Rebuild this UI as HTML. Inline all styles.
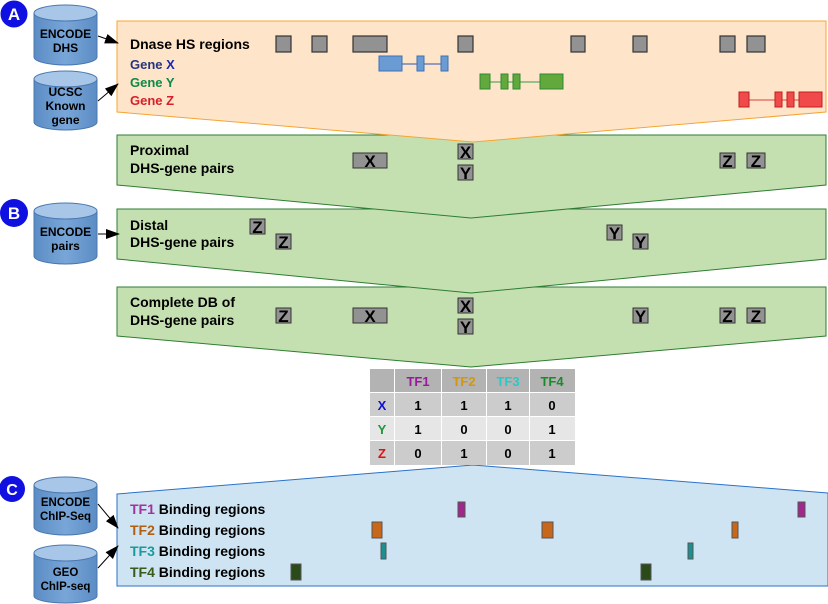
<!DOCTYPE html>
<html><head><meta charset="utf-8"><style>
html,body{margin:0;padding:0;background:#fff}
svg{display:block}
text{font-family:"Liberation Sans",sans-serif;font-weight:bold}
</style></head><body>
<svg width="828" height="604" viewBox="0 0 828 604" xmlns="http://www.w3.org/2000/svg">
<defs>
<marker id="ah" markerWidth="14" markerHeight="10" refX="13" refY="5" orient="auto" markerUnits="userSpaceOnUse"><path d="M0,0 L14,5 L0,10 z" fill="#000"/></marker>
<linearGradient id="cyl" x1="0" x2="1"><stop offset="0" stop-color="#5b8cc4"/><stop offset="0.5" stop-color="#79a6d8"/><stop offset="1" stop-color="#5b8cc4"/></linearGradient>
</defs>

<!-- panels (lower first, upper overlays) -->
<polygon points="117,494 473,465 828,493 828,586 117,586" fill="#cfe4f3" stroke="#2a72c8" stroke-width="1"/>
<polygon points="117,287 826,287 826,336 471,367 117,336" fill="#c4e0b0" stroke="#2e7d32" stroke-width="1"/>
<polygon points="117,209 826,209 826,259 471,293 117,259" fill="#c4e0b0" stroke="#2e7d32" stroke-width="1"/>
<polygon points="117,135 826,135 826,185 471,218 117,185" fill="#c4e0b0" stroke="#2e7d32" stroke-width="1"/>
<polygon points="117,21 826,21 826,112 473,142 117,112" fill="#fee5ca" stroke="#f4a534" stroke-width="1"/>

<!-- circles -->
<g><circle cx="14" cy="14" r="14" fill="#1010e0" stroke="#fff" stroke-width="1"/><text x="14" y="20" font-size="17" fill="#fff" text-anchor="middle">A</text></g>
<g><circle cx="14" cy="213" r="14" fill="#1010e0"/><text x="14" y="219" font-size="17" fill="#fff" text-anchor="middle">B</text></g>
<g><circle cx="12" cy="489" r="13" fill="#1010e0"/><text x="12" y="495" font-size="16" fill="#fff" text-anchor="middle">C</text></g>

<!-- cylinders -->
<g>
<path d="M34,13 L34,57 A31.5,8 0 0 0 97,57 L97,13" fill="url(#cyl)" stroke="#4a78b0"/>
<ellipse cx="65.5" cy="13" rx="31.5" ry="8" fill="#a8c6e8" stroke="#4a78b0"/>
<text x="65.5" y="38" font-size="12" text-anchor="middle">ENCODE</text><text x="65.5" y="52" font-size="12" text-anchor="middle">DHS</text></g>
<g>
<path d="M34,79 L34,122 A31.5,8 0 0 0 97,122 L97,79" fill="url(#cyl)" stroke="#4a78b0"/>
<ellipse cx="65.5" cy="79" rx="31.5" ry="8" fill="#a8c6e8" stroke="#4a78b0"/>
<text x="65.5" y="96" font-size="12" text-anchor="middle">UCSC</text><text x="65.5" y="110" font-size="12" text-anchor="middle">Known</text><text x="65.5" y="124" font-size="12" text-anchor="middle">gene</text></g>
<g>
<path d="M34,211 L34,256 A31.5,8 0 0 0 97,256 L97,211" fill="url(#cyl)" stroke="#4a78b0"/>
<ellipse cx="65.5" cy="211" rx="31.5" ry="8" fill="#a8c6e8" stroke="#4a78b0"/>
<text x="65.5" y="236" font-size="12" text-anchor="middle">ENCODE</text><text x="65.5" y="250" font-size="12" text-anchor="middle">pairs</text></g>
<g>
<path d="M34,485 L34,527 A31.5,8 0 0 0 97,527 L97,485" fill="url(#cyl)" stroke="#4a78b0"/>
<ellipse cx="65.5" cy="485" rx="31.5" ry="8" fill="#a8c6e8" stroke="#4a78b0"/>
<text x="65.5" y="506" font-size="11.5" text-anchor="middle">ENCODE</text><text x="65.5" y="520" font-size="11.5" text-anchor="middle">ChIP-Seq</text></g>
<g>
<path d="M34,553 L34,596 A31.5,7 0 0 0 97,596 L97,553" fill="url(#cyl)" stroke="#4a78b0"/>
<ellipse cx="65.5" cy="553" rx="31.5" ry="8" fill="#a8c6e8" stroke="#4a78b0"/>
<text x="65.5" y="576" font-size="11.5" text-anchor="middle">GEO</text><text x="65.5" y="590" font-size="11.5" text-anchor="middle">ChIP-seq</text></g>

<!-- arrows -->
<line x1="98" y1="36" x2="118" y2="43" stroke="#000" marker-end="url(#ah)"/>
<line x1="98" y1="101" x2="118" y2="84" stroke="#000" marker-end="url(#ah)"/>
<line x1="98" y1="234" x2="119" y2="234" stroke="#000" marker-end="url(#ah)"/>
<line x1="98" y1="504" x2="118" y2="528" stroke="#000" marker-end="url(#ah)"/>
<line x1="98" y1="568" x2="118" y2="546" stroke="#000" marker-end="url(#ah)"/>

<!-- panel A text -->
<text x="130" y="49" font-size="14">Dnase HS regions</text>
<text x="130" y="69" font-size="13" fill="#27357e">Gene <tspan fill="#1a2ab0">X</tspan></text>
<text x="130" y="87" font-size="13" fill="#0b8a4a">Gene Y</text>
<text x="130" y="105" font-size="13" fill="#d81e2a">Gene Z</text>

<g fill="#929292" stroke="#333" stroke-width="1.2">
<rect x="276" y="36" width="15" height="16"/><rect x="312" y="36" width="15" height="16"/><rect x="353" y="36" width="34" height="16"/><rect x="458" y="36" width="15" height="16"/><rect x="571" y="36" width="14" height="16"/><rect x="633" y="36" width="14" height="16"/><rect x="720" y="36" width="15" height="16"/><rect x="747" y="36" width="18" height="16"/></g>

<g><line x1="402" y1="64" x2="448" y2="64" stroke="#3050a8"/>
<g fill="#6a9bd2" stroke="#3d6fb5"><rect x="379" y="56" width="23" height="15"/><rect x="417" y="56" width="7" height="15"/><rect x="441" y="56" width="7" height="15"/></g></g>
<g><line x1="490" y1="82" x2="540" y2="82" stroke="#2e9a40"/>
<g fill="#62a83c" stroke="#2e8a30"><rect x="480" y="74" width="10" height="15"/><rect x="501" y="74" width="7" height="15"/><rect x="513" y="74" width="7" height="15"/><rect x="540" y="74" width="23" height="15"/></g></g>
<g><line x1="749" y1="100" x2="799" y2="100" stroke="#d84040"/>
<g fill="#f04a4a" stroke="#c02020"><rect x="739" y="92" width="10" height="15"/><rect x="775" y="92" width="7" height="15"/><rect x="787" y="92" width="7" height="15"/><rect x="799" y="92" width="23" height="15"/></g></g>

<!-- proximal -->
<text x="130" y="155" font-size="14">Proximal</text>
<text x="130" y="173" font-size="14">DHS-gene pairs</text>
<g font-size="17" text-anchor="middle">
<rect x="353" y="153" width="34" height="15" fill="#929292" stroke="#333"/><text x="370" y="167">X</text>
<rect x="458" y="144" width="15" height="15" fill="#929292" stroke="#333"/><text x="465.5" y="158">X</text>
<rect x="458" y="165" width="15" height="15" fill="#929292" stroke="#333"/><text x="465.5" y="179">Y</text>
<rect x="720" y="153" width="15" height="15" fill="#929292" stroke="#333"/><text x="727.5" y="167">Z</text>
<rect x="747" y="153" width="18" height="15" fill="#929292" stroke="#333"/><text x="756" y="167">Z</text></g>

<!-- distal -->
<text x="130" y="230" font-size="14">Distal</text>
<text x="130" y="247" font-size="14">DHS-gene pairs</text>
<g font-size="17" text-anchor="middle">
<rect x="250" y="219" width="15" height="15" fill="#929292" stroke="#333"/><text x="257.5" y="233">Z</text>
<rect x="276" y="234" width="15" height="15" fill="#929292" stroke="#333"/><text x="283.5" y="248">Z</text>
<rect x="607" y="225" width="15" height="15" fill="#929292" stroke="#333"/><text x="614.5" y="239">Y</text>
<rect x="633" y="234" width="15" height="15" fill="#929292" stroke="#333"/><text x="640.5" y="248">Y</text></g>

<!-- complete -->
<text x="130" y="307" font-size="14">Complete DB of</text>
<text x="130" y="325" font-size="14">DHS-gene pairs</text>
<g font-size="17" text-anchor="middle">
<rect x="276" y="308" width="15" height="15" fill="#929292" stroke="#333"/><text x="283.5" y="322">Z</text>
<rect x="353" y="308" width="34" height="15" fill="#929292" stroke="#333"/><text x="370" y="322">X</text>
<rect x="458" y="298" width="15" height="15" fill="#929292" stroke="#333"/><text x="465.5" y="312">X</text>
<rect x="458" y="319" width="15" height="15" fill="#929292" stroke="#333"/><text x="465.5" y="333">Y</text>
<rect x="633" y="308" width="15" height="15" fill="#929292" stroke="#333"/><text x="640.5" y="322">Y</text>
<rect x="720" y="308" width="15" height="15" fill="#929292" stroke="#333"/><text x="727.5" y="322">Z</text>
<rect x="747" y="308" width="18" height="15" fill="#929292" stroke="#333"/><text x="756" y="322">Z</text></g>

<!-- table -->
<g font-size="13" text-anchor="middle" stroke="none">
<rect x="370" y="369" width="205" height="96" fill="#fff"/>
<rect x="370" y="369" width="24" height="23" fill="#b3b3b3"/>
<rect x="395" y="369" width="46" height="23" fill="#b3b3b3"/><rect x="442" y="369" width="44" height="23" fill="#b3b3b3"/><rect x="487" y="369" width="42" height="23" fill="#b3b3b3"/><rect x="530" y="369" width="45" height="23" fill="#b3b3b3"/>
<rect x="370" y="393" width="24" height="23" fill="#cccccc"/><rect x="395" y="393" width="180" height="23" fill="#cccccc"/>
<rect x="370" y="417" width="24" height="23" fill="#e6e6e6"/><rect x="395" y="417" width="180" height="23" fill="#e6e6e6"/>
<rect x="370" y="441" width="24" height="24" fill="#cccccc"/><rect x="395" y="441" width="180" height="24" fill="#cccccc"/>
<g stroke="#fff" stroke-width="1"><line x1="441.5" y1="393" x2="441.5" y2="465"/><line x1="486.5" y1="393" x2="486.5" y2="465"/><line x1="529.5" y1="393" x2="529.5" y2="465"/></g>
<text x="418" y="386" fill="#9a1a9a">TF1</text><text x="464" y="386" fill="#d4960a">TF2</text><text x="508" y="386" fill="#2ac8c8">TF3</text><text x="552" y="386" fill="#1a8a2a">TF4</text>
<text x="382" y="410" fill="#1010d0">X</text><text x="382" y="434" fill="#1a9a3a">Y</text><text x="382" y="458" fill="#e01010">Z</text>
<text x="418" y="410">1</text><text x="464" y="410">1</text><text x="508" y="410">1</text><text x="552" y="410">0</text>
<text x="418" y="434">1</text><text x="464" y="434">0</text><text x="508" y="434">0</text><text x="552" y="434">1</text>
<text x="418" y="458">0</text><text x="464" y="458">1</text><text x="508" y="458">0</text><text x="552" y="458">1</text>
</g>

<!-- binding -->
<g font-size="14">
<text x="130" y="514"><tspan fill="#a3329a">TF1</tspan> Binding regions</text>
<text x="130" y="535"><tspan fill="#b06010">TF2</tspan> Binding regions</text>
<text x="130" y="556"><tspan fill="#1a9a9a">TF3</tspan> Binding regions</text>
<text x="130" y="577"><tspan fill="#3a5a1a">TF4</tspan> Binding regions</text></g>
<g fill="#a0288c" stroke="#555"><rect x="458" y="502" width="7" height="15"/><rect x="798" y="502" width="7" height="15"/></g>
<g fill="#c8661a" stroke="#555"><rect x="372" y="522" width="10" height="16"/><rect x="542" y="522" width="11" height="16"/><rect x="732" y="522" width="6" height="16"/></g>
<g fill="#1a9090" stroke="#555"><rect x="381" y="543" width="5" height="16"/><rect x="688" y="543" width="5" height="16"/></g>
<g fill="#2a4a1a" stroke="#555"><rect x="291" y="564" width="10" height="16"/><rect x="641" y="564" width="10" height="16"/></g>
</svg>
</body></html>
